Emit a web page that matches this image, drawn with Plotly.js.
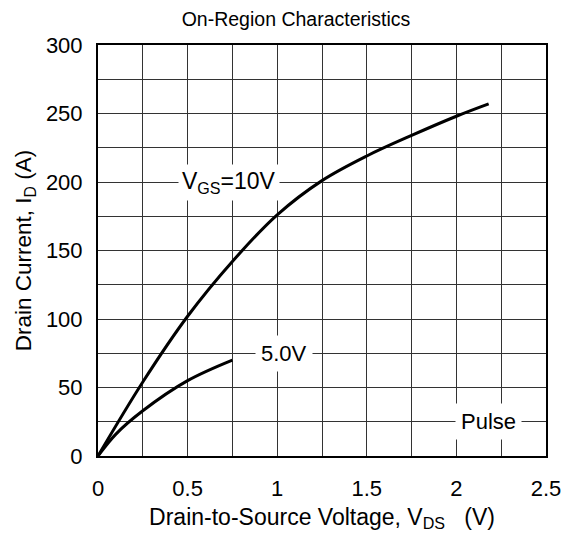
<!DOCTYPE html>
<html><head><meta charset="utf-8">
<script src="https://cdn.plot.ly/plotly-3.0.1.min.js"></script>
<style>body{margin:0;background:#fff}#c{width:566px;height:536px}</style>
</head><body><div id="c"></div>
<script>
const vds10 = [0, 0.25, 0.5, 0.75, 1.0, 1.25, 1.5, 1.75, 2.0, 2.18];
const id10  = [0, 54, 102, 142, 176, 201, 219, 234, 248, 257];
const vds5  = [0, 0.1, 0.25, 0.5, 0.75];
const id5   = [0, 16, 33, 55, 70];
const xTicks = [0, 0.5, 1, 1.5, 2, 2.5];
const xTickText = ['0', '0.5', '1', '1.5', '2', '2.5'];
const yTicks = [0, 50, 100, 150, 200, 250, 300];

const font = 'Liberation Sans, Arial, sans-serif';
const traces = [
  {x: vds10, y: id10, mode: 'lines', line: {color: '#000', width: 3, shape: 'spline', smoothing: 1}, hoverinfo: 'skip'},
  {x: vds5, y: id5, mode: 'lines', line: {color: '#000', width: 3, shape: 'spline', smoothing: 1}, hoverinfo: 'skip'}
];
const layout = {
  width: 566, height: 536,
  margin: {l: 98, r: 20, t: 45, b: 80},
  paper_bgcolor: '#fff', plot_bgcolor: '#fff',
  showlegend: false,
  font: {family: font, color: '#000', size: 22},
  title: {text: 'On-Region Characteristics', font: {size: 19.5, family: font}, x: 0.523, xanchor: 'center', y: 0.965, yanchor: 'middle'},
  xaxis: {
    range: [0, 2.5], tickvals: xTicks, ticktext: xTickText, ticks: '',
    showline: true, mirror: true, linecolor: '#000', linewidth: 2,
    showgrid: true, gridcolor: '#333', gridwidth: 1,
    minor: {dtick: 0.25, tick0: 0, showgrid: true, gridcolor: '#333', gridwidth: 1},
    zeroline: false, ticklabelstandoff: 12,
    tickfont: {size: 22},
    title: {text: 'Drain-to-Source Voltage, V<sub>DS</sub>&nbsp;&nbsp;&nbsp;(V)', font: {size: 23}, standoff: 8}
  },
  yaxis: {
    range: [0, 300], tickvals: yTicks, ticks: '',
    showline: true, mirror: true, linecolor: '#000', linewidth: 2,
    showgrid: true, gridcolor: '#333', gridwidth: 1,
    minor: {dtick: 25, tick0: 0, showgrid: true, gridcolor: '#333', gridwidth: 1},
    zeroline: false, ticklabelstandoff: 9,
    tickfont: {size: 22},
    title: {text: 'Drain Current, I<sub>D</sub> (A)', font: {size: 22.5}, standoff: 8}
  },
  annotations: [
    {x: 0.73, y: 200, xref: 'x', yref: 'y', text: 'V<sub>GS</sub>=10V', showarrow: false, bgcolor: '#fff', borderpad: 3, font: {size: 23}, xanchor: 'center', yanchor: 'middle'},
    {x: 1.04, y: 75, xref: 'x', yref: 'y', text: '5.0V', showarrow: false, bgcolor: '#fff', borderpad: 5, font: {size: 22}, xanchor: 'center', yanchor: 'middle'},
    {x: 2.18, y: 25, xref: 'x', yref: 'y', text: 'Pulse', showarrow: false, bgcolor: '#fff', borderpad: 5, font: {size: 22}, xanchor: 'center', yanchor: 'middle'}
  ]
};
Plotly.newPlot('c', traces, layout, {staticPlot: true});
</script></body></html>
